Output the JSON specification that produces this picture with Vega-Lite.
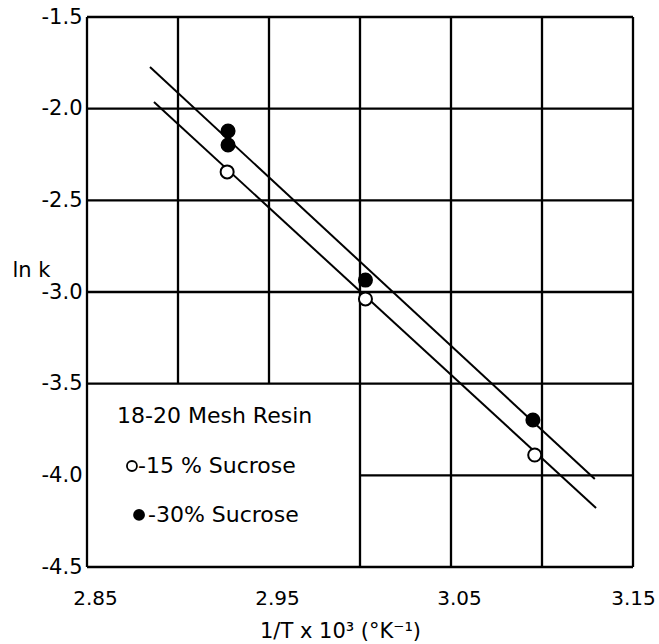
{
  "$schema": "https://vega.github.io/schema/vega-lite/v6.json",
  "width": 546,
  "height": 550,
  "autosize": {"type": "none"},
  "padding": {"left": 87, "top": 17, "right": 26, "bottom": 77},
  "background": "white",
  "config": {"view": {"stroke": null}, "font": "DejaVu Sans"},
  "datasets": {
    "grid": [
      {"x": 2.85, "x2": 2.85, "y": -4.5, "y2": -1.5},
      {"x": 3.15, "x2": 3.15, "y": -4.5, "y2": -1.5},
      {"x": 2.85, "x2": 3.15, "y": -1.5, "y2": -1.5},
      {"x": 2.85, "x2": 3.15, "y": -4.5, "y2": -4.5},
      {"x": 2.90, "x2": 2.90, "y": -3.5, "y2": -1.5},
      {"x": 2.95, "x2": 2.95, "y": -3.5, "y2": -1.5},
      {"x": 3.00, "x2": 3.00, "y": -4.5, "y2": -1.5},
      {"x": 3.05, "x2": 3.05, "y": -4.5, "y2": -1.5},
      {"x": 3.10, "x2": 3.10, "y": -4.5, "y2": -1.5},
      {"x": 2.85, "x2": 3.15, "y": -2.0, "y2": -2.0},
      {"x": 2.85, "x2": 3.15, "y": -2.5, "y2": -2.5},
      {"x": 2.85, "x2": 3.15, "y": -3.0, "y2": -3.0},
      {"x": 2.85, "x2": 3.15, "y": -3.5, "y2": -3.5},
      {"x": 3.00, "x2": 3.15, "y": -4.0, "y2": -4.0}
    ],
    "fits": [
      {"series": "30%", "x": 2.8846, "y": -1.773},
      {"series": "30%", "x": 3.129, "y": -4.020},
      {"series": "15%", "x": 2.8868, "y": -1.964},
      {"series": "15%", "x": 3.1297, "y": -4.178}
    ],
    "points": [
      {"series": "30%", "x": 2.9275, "y": -2.122},
      {"series": "30%", "x": 2.9275, "y": -2.198},
      {"series": "30%", "x": 3.003, "y": -2.935},
      {"series": "30%", "x": 3.095, "y": -3.698},
      {"series": "15%", "x": 2.927, "y": -2.345},
      {"series": "15%", "x": 3.003, "y": -3.038},
      {"series": "15%", "x": 3.096, "y": -3.889}
    ],
    "legendSymbols": [
      {"series": "15%", "x": 2.8747, "y": -3.949},
      {"series": "30%", "x": 2.8786, "y": -4.216}
    ],
    "legendText": [
      {"label": "18-20  Mesh Resin", "x": 2.8665, "y": -3.676},
      {"label": "-15 % Sucrose", "x": 2.878, "y": -3.949},
      {"label": "-30% Sucrose", "x": 2.8835, "y": -4.216}
    ]
  },
  "encoding": {
    "x": {
      "field": "x", "type": "quantitative",
      "scale": {"domain": [2.85, 3.15], "nice": false, "zero": false},
      "axis": {
        "values": [2.85, 2.95, 3.05, 3.15],
        "format": ".2f",
        "grid": false, "ticks": false, "domain": false,
        "labelFlush": false,
        "labelOffset": {"condition": {"test": "datum.value > 3.14", "value": 0}, "value": 8},
        "labelFontSize": 20, "labelColor": "black", "labelPadding": 21,
        "labelFont": "DejaVu Sans",
        "title": "1/T x 10³ (°K⁻¹)",
        "titleFontSize": 21, "titleFontWeight": "normal", "titleColor": "black",
        "titleFont": "DejaVu Sans",
        "titleX": 253, "titleY": 64, "titleBaseline": "middle", "titleAlign": "center"
      }
    },
    "y": {
      "field": "y", "type": "quantitative",
      "scale": {"domain": [-4.5, -1.5], "nice": false, "zero": false},
      "axis": {
        "values": [-1.5, -2.0, -2.5, -3.0, -3.5, -4.0, -4.5],
        "labelExpr": "'-' + format(abs(datum.value), '.1f')",
        "grid": false, "ticks": false, "domain": false,
        "labelFontSize": 21, "labelColor": "black", "labelPadding": 5,
        "labelFont": "DejaVu Sans",
        "title": "ln k",
        "titleAngle": 0, "titleAlign": "left", "titleBaseline": "middle",
        "titleX": -75, "titleY": 253,
        "titleFontSize": 21, "titleFontWeight": "normal", "titleColor": "black",
        "titleFont": "DejaVu Sans"
      }
    }
  },
  "layer": [
    {
      "data": {"name": "grid"},
      "mark": {"type": "rule", "color": "black", "strokeWidth": 2.3},
      "encoding": {
        "x2": {"field": "x2"},
        "y2": {"field": "y2"}
      }
    },
    {
      "data": {"name": "fits"},
      "mark": {"type": "line", "color": "black", "strokeWidth": 2},
      "encoding": {
        "detail": {"field": "series"}
      }
    },
    {
      "data": {"name": "points"},
      "mark": {"type": "point", "shape": "circle", "stroke": "black", "strokeWidth": 2, "size": 170, "opacity": 1, "filled": false},
      "encoding": {
        "fill": {"field": "series", "type": "nominal", "scale": {"domain": ["15%", "30%"], "range": ["white", "black"]}, "legend": null}
      }
    },
    {
      "data": {"name": "legendSymbols"},
      "mark": {"type": "point", "shape": "circle", "stroke": "black", "strokeWidth": 1.8, "size": 100, "opacity": 1, "filled": false},
      "encoding": {
        "fill": {"field": "series", "type": "nominal", "scale": {"domain": ["15%", "30%"], "range": ["white", "black"]}, "legend": null}
      }
    },
    {
      "data": {"name": "legendText"},
      "mark": {"type": "text", "align": "left", "baseline": "middle", "fontSize": 22, "color": "black", "font": "DejaVu Sans"},
      "encoding": {
        "text": {"field": "label"}
      }
    }
  ]
}
